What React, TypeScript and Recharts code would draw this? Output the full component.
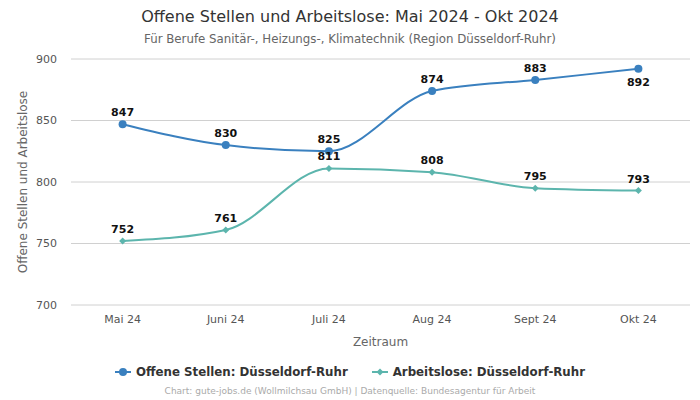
import React from "react";
import {
  CartesianGrid,
  LabelList,
  Line,
  LineChart,
  XAxis,
  YAxis,
} from "recharts";

const months = ["Mai 24", "Juni 24", "Juli 24", "Aug 24", "Sept 24", "Okt 24"];
const offeneStellen = [847, 830, 825, 874, 883, 892];
const arbeitslose = [752, 761, 811, 808, 795, 793];
const yTicks = [700, 750, 800, 850, 900];

const BLUE = "#3a80bf";
const TEAL = "#5cb5ad";
const FONT = "'DejaVu Sans', sans-serif";

const data = months.map((m, i) => ({
  month: m,
  offene: offeneStellen[i],
  arbeitslose: arbeitslose[i],
}));

const Diamond = (props: any) => {
  const { cx, cy } = props;
  if (cx == null || cy == null) return null;
  const s = 3.5;
  return (
    <path
      d={`M${cx},${cy - s} L${cx + s},${cy} L${cx},${cy + s} L${cx - s},${cy} Z`}
      fill={TEAL}
    />
  );
};

// labels above the point, except near the top edge where it goes below
const makeLabel = (below: (v: number) => boolean) => (props: any) => {
  const { x, y, value } = props;
  const dy = below(value) ? 17 : -8;
  return (
    <text
      x={x}
      y={y + dy}
      textAnchor="middle"
      fontSize={11}
      fontWeight="bold"
      fill="#111"
      fontFamily={FONT}
    >
      {value}
    </text>
  );
};

const LegendItem = ({ color, diamond, text }: { color: string; diamond?: boolean; text: string }) => (
  <span style={{ display: "inline-flex", alignItems: "center", gap: 5 }}>
    <svg width={16} height={10}>
      <line x1={0} y1={5} x2={16} y2={5} stroke={color} strokeWidth={2} />
      {diamond ? (
        <path d="M8,1.5 L11.5,5 L8,8.5 L4.5,5 Z" fill={color} />
      ) : (
        <circle cx={8} cy={5} r={4} fill={color} />
      )}
    </svg>
    <span>{text}</span>
  </span>
);

export default function App() {
  return (
    <div
      style={{
        position: "absolute",
        left: 0,
        top: 0,
        width: 700,
        height: 400,
        background: "#fff",
        fontFamily: FONT,
      }}
    >
      <div
        style={{
          position: "absolute",
          top: 7,
          width: 700,
          textAlign: "center",
          fontSize: 16,
          color: "#333",
        }}
      >
        Offene Stellen und Arbeitslose: Mai 2024 - Okt 2024
      </div>
      <div
        style={{
          position: "absolute",
          top: 32,
          width: 700,
          textAlign: "center",
          fontSize: 11.8,
          color: "#666",
        }}
      >
        Für Berufe Sanitär-, Heizungs-, Klimatechnik (Region Düsseldorf-Ruhr)
      </div>

      <LineChart
        width={700}
        height={400}
        data={data}
        margin={{ top: 59, right: 10, bottom: 65, left: 0 }}
      >
        <CartesianGrid vertical={false} stroke="#d0d0d0" />
        <XAxis
          dataKey="month"
          axisLine={false}
          tickLine={false}
          tickSize={0}
          tickMargin={10}
          height={30}
          padding={{ left: 51.6, right: 51.6 }}
          tick={{ fontSize: 11, fill: "#555", fontFamily: FONT }}
          label={{
            value: "Zeitraum",
            position: "insideBottom",
            offset: -11,
            fontSize: 12,
            fill: "#666",
            fontFamily: FONT,
          }}
        />
        <YAxis
          width={71}
          domain={[700, 900]}
          ticks={yTicks}
          axisLine={false}
          tickLine={false}
          tickSize={0}
          tickMargin={14}
          tick={{ fontSize: 11, fill: "#555", fontFamily: FONT }}
          label={{
            value: "Offene Stellen und Arbeitslose",
            angle: -90,
            position: "insideLeft",
            offset: 23,
            style: { textAnchor: "middle" },
            fontSize: 12,
            fill: "#666",
            fontFamily: FONT,
          }}
        />
        <Line
          type="monotone"
          dataKey="offene"
          stroke={BLUE}
          strokeWidth={2}
          dot={{ r: 4, fill: BLUE, stroke: BLUE, strokeWidth: 0 }}
          isAnimationActive={false}
        >
          <LabelList dataKey="offene" content={makeLabel((v) => v >= 890)} />
        </Line>
        <Line
          type="monotone"
          dataKey="arbeitslose"
          stroke={TEAL}
          strokeWidth={2}
          dot={<Diamond />}
          isAnimationActive={false}
        >
          <LabelList dataKey="arbeitslose" content={makeLabel(() => false)} />
        </Line>
      </LineChart>

      <div
        style={{
          position: "absolute",
          top: 365,
          width: 700,
          display: "flex",
          justifyContent: "center",
          gap: 24,
          fontSize: 11.8,
          fontWeight: "bold",
          color: "#333",
        }}
      >
        <LegendItem color={BLUE} text="Offene Stellen: Düsseldorf-Ruhr" />
        <LegendItem color={TEAL} diamond text="Arbeitslose: Düsseldorf-Ruhr" />
      </div>
      <div
        style={{
          position: "absolute",
          top: 386,
          width: 700,
          textAlign: "center",
          fontSize: 9,
          color: "#aaa",
        }}
      >
        Chart: gute-jobs.de (Wollmilchsau GmbH) | Datenquelle: Bundesagentur für Arbeit
      </div>
    </div>
  );
}
